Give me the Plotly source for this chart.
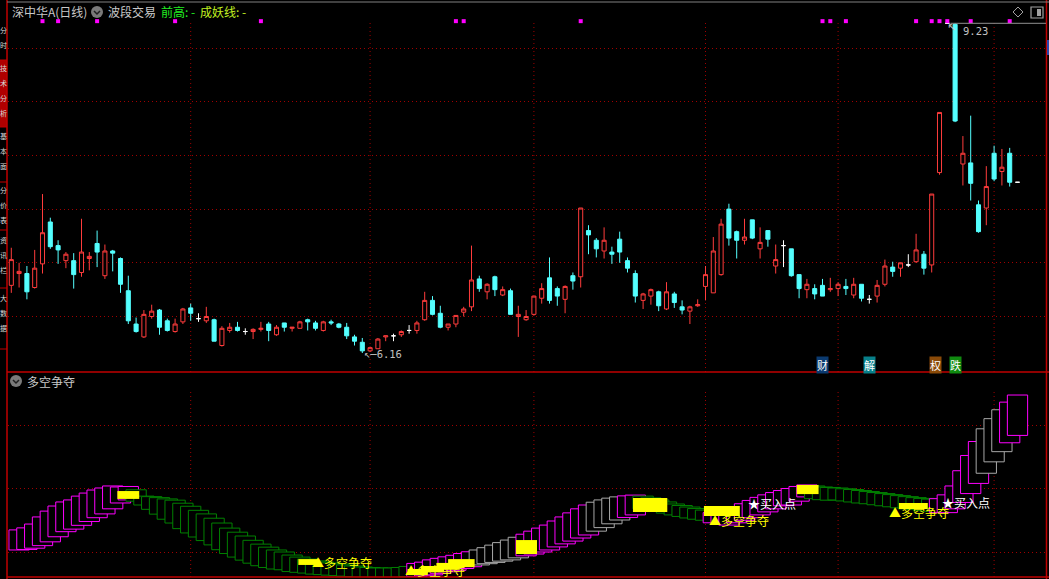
import plotly.graph_objects as go

W, H = 1049, 579

# ---------------- price data (positions 0..129) ----------------
opens = [6.79, 6.90, 6.90, 6.77, 6.99, 7.38, 7.16, 7.02, 7.02, 6.91,
         7.04, 7.18, 6.88, 7.11, 7.04, 6.74, 6.43, 6.31, 6.50, 6.56,
         6.46, 6.36, 6.45, 6.58, 6.48, 6.46, 6.47, 6.23, 6.37, 6.40,
         6.36, 6.36, 6.38, 6.43, 6.33, 6.44, 6.39, 6.39, 6.47, 6.44,
         6.37, 6.45, 6.43, 6.40, 6.31, 6.26, 6.18, 6.20, 6.31, 6.32,
         6.33, 6.37, 6.37, 6.47, 6.65, 6.53, 6.40, 6.43, 6.54, 6.59,
         6.85, 6.73, 6.87, 6.70, 6.74, 6.50, 6.47, 6.52, 6.67, 6.86,
         6.76, 6.66, 6.88, 6.87, 7.30, 7.21, 7.11, 7.10, 7.22, 7.02,
         6.90, 6.65, 6.69, 6.73, 6.57, 6.71, 6.59, 6.55, 6.60, 6.78,
         6.72, 6.89, 7.50, 7.29, 7.21, 7.40, 7.13, 7.30, 6.97, 7.16,
         7.13, 6.89, 6.75, 6.76, 6.79, 6.75, 6.76, 6.78, 6.70, 6.80,
         6.66, 6.69, 6.80, 6.96, 6.95, 6.98, 7.01, 7.08, 6.98, 7.84,
         9.23, 9.22, 7.92, 7.93, 7.54, 7.51, 8.02, 7.85, 8.02, 7.75]
highs = [7.14, 7.00, 6.97, 7.12, 7.64, 7.42, 7.21, 7.10, 7.09, 7.41,
         7.10, 7.30, 7.17, 7.12, 7.05, 6.88, 6.49, 6.56, 6.61, 6.57,
         6.48, 6.48, 6.58, 6.62, 6.53, 6.59, 6.48, 6.41, 6.44, 6.45,
         6.39, 6.39, 6.45, 6.45, 6.42, 6.44, 6.40, 6.46, 6.48, 6.46,
         6.46, 6.47, 6.44, 6.44, 6.33, 6.30, 6.22, 6.30, 6.32, 6.34,
         6.37, 6.42, 6.46, 6.73, 6.69, 6.60, 6.43, 6.51, 6.59, 7.16,
         6.88, 6.81, 6.88, 6.78, 6.76, 6.60, 6.56, 6.69, 6.81, 7.05,
         6.78, 6.79, 6.91, 7.51, 7.35, 7.23, 7.33, 7.15, 7.29, 7.05,
         6.93, 6.72, 6.76, 6.74, 6.82, 6.73, 6.65, 6.60, 6.66, 6.97,
         7.24, 7.41, 7.55, 7.30, 7.41, 7.40, 7.33, 7.30, 7.17, 7.21,
         7.13, 6.89, 6.85, 6.80, 6.85, 6.86, 6.82, 6.85, 6.86, 6.80,
         6.70, 6.84, 7.03, 7.01, 7.00, 7.08, 7.27, 7.11, 7.64, 8.40,
         9.23, 9.23, 8.18, 8.37, 7.58, 7.90, 8.09, 8.06, 8.07, 7.75]
lows = [6.72, 6.77, 6.66, 6.76, 6.90, 7.13, 6.99, 6.95, 6.76, 6.87,
        6.93, 6.96, 6.85, 6.92, 6.72, 6.43, 6.35, 6.30, 6.48, 6.33,
        6.36, 6.35, 6.43, 6.46, 6.45, 6.44, 6.27, 6.22, 6.35, 6.36,
        6.33, 6.29, 6.36, 6.27, 6.32, 6.36, 6.36, 6.39, 6.37, 6.37,
        6.36, 6.42, 6.39, 6.29, 6.23, 6.16, 6.17, 6.20, 6.27, 6.27,
        6.31, 6.34, 6.34, 6.46, 6.51, 6.39, 6.37, 6.40, 6.50, 6.55,
        6.73, 6.66, 6.69, 6.69, 6.52, 6.31, 6.46, 6.51, 6.62, 6.62,
        6.60, 6.53, 6.75, 6.77, 7.08, 7.05, 7.04, 6.99, 7.00, 6.91,
        6.63, 6.57, 6.61, 6.55, 6.56, 6.58, 6.52, 6.43, 6.59, 6.65,
        6.72, 6.88, 7.16, 7.04, 7.17, 7.22, 7.04, 7.15, 6.90, 6.96,
        6.87, 6.67, 6.67, 6.66, 6.69, 6.73, 6.69, 6.70, 6.67, 6.64,
        6.62, 6.63, 6.78, 6.87, 6.87, 6.96, 7.00, 6.89, 6.91, 7.82,
        9.23, 8.31, 7.72, 7.58, 7.28, 7.35, 7.76, 7.72, 7.71, 7.75]
closes = [7.03, 6.92, 6.73, 6.95, 7.28, 7.15, 7.12, 7.08, 6.89, 7.10,
          7.06, 7.10, 7.11, 7.09, 6.80, 6.46, 6.36, 6.52, 6.55, 6.40,
          6.37, 6.43, 6.57, 6.53, 6.48, 6.50, 6.27, 6.39, 6.40, 6.37,
          6.36, 6.38, 6.39, 6.37, 6.40, 6.40, 6.40, 6.45, 6.45, 6.39,
          6.45, 6.44, 6.40, 6.32, 6.27, 6.18, 6.21, 6.29, 6.32, 6.32,
          6.36, 6.37, 6.44, 6.65, 6.52, 6.40, 6.43, 6.51, 6.57, 6.84,
          6.76, 6.80, 6.75, 6.75, 6.52, 6.52, 6.50, 6.69, 6.76, 6.65,
          6.69, 6.78, 6.83, 7.51, 7.26, 7.13, 7.21, 7.08, 7.10, 6.95,
          6.69, 6.71, 6.75, 6.60, 6.73, 6.63, 6.56, 6.59, 6.61, 6.89,
          7.11, 7.36, 7.23, 7.21, 7.24, 7.23, 7.19, 7.22, 7.03, 7.16,
          6.88, 6.76, 6.80, 6.71, 6.69, 6.76, 6.80, 6.76, 6.80, 6.67,
          6.66, 6.79, 6.97, 6.92, 7.00, 6.98, 7.12, 6.95, 7.64, 8.40,
          9.23, 8.32, 8.02, 7.74, 7.29, 7.71, 7.78, 7.89, 7.75, 7.75]

signal_dot_pos = [4, 6, 11, 21, 32, 57, 58, 73, 104, 105, 107, 116, 118, 119, 120, 123, 128]
signal_dot_level = 9.25
month_lines = [23, 46, 67, 89, 106, 126]
price_grid = [6.5, 7.0, 7.5, 8.0, 8.5, 9.0]

# ---------------- 多空争夺 indicator (None = not drawn) ----------------
ind_top = [33.7, 34.5, 36.0, 38.8, 41.1, 43.1, 44.7, 45.5, 47.0, 48.2, 49.4, 50.2, 51.0, 50.6,
           50.8, 49.5,
           47.0, 46.8, 46.4, 45.9, 45.4, 44.2, 43.0, 41.4, 40.0, 38.3, 36.4, 34.4, 32.8, 31.3,
           29.6, 28.1, 26.9, 25.8, 25.0, 23.8, 23.0,
           22.2, 21.5, 21.1, 20.7, 20.3, 19.9, 19.5, 19.1, 18.9, 18.7, 18.7, 18.7, 18.9, 19.3,
           20.5, 21.0, 21.9, 22.5, 23.1, 23.7, 24.4, 25.1, 25.8, 26.7, 27.7, 28.7, 29.7, 30.8,
           32.0, 33.2, 34.4, 35.6, 37.2, 38.8, 40.4, 42.0, 43.5, 44.6, 45.5, 46.2, 46.7, 47.1, 47.4,
           47.0, 46.3, 45.5, 44.7, 43.9, 43.3, 42.7, 42.1, 41.5,
           40.5, 41.0, 41.5, 42.8, 44.0, 45.3, 46.5, 47.5, 48.4, 49.2, 50.0, 50.8, 51.4,
           51.0, 50.6, 50.4, 50.2, 49.9, 49.6, 49.2, 48.8, 48.4, 48.0, 47.6, 47.2, 46.8, 46.4, 46.1, 45.8,
           46.0, 47.5, 51.0, 57.0, 63.0, 68.5, 73.5, 77.5, 81.0, 84.0, 86.8, None]
ind_bot = [25.8, 26.0, 26.5, 27.5, 29.0, 31.0, 33.0, 34.0, 35.5, 37.0, 38.5, 40.0, 42.0, 44.3,
           45.5, 45.0,
           43.5, 41.8, 39.9, 37.9, 36.4, 34.2, 32.5, 30.9, 29.5, 27.8, 25.9, 24.4, 23.0, 21.8,
           20.6, 19.6, 18.9, 18.3, 18.0, 17.3, 17.0,
           16.7, 16.3, 16.1, 15.9, 15.7, 15.5, 15.3, 15.1, 15.0, 14.9, 14.9, 14.9, 15.0, 15.3,
           15.3, 15.6, 16.0, 16.6, 17.2, 17.8, 18.5, 19.2, 19.9, 20.4, 20.9, 21.4, 21.9, 22.7,
           23.5, 24.2, 25.0, 25.8, 27.0, 28.2, 29.3, 30.5, 31.7, 33.2, 34.6, 36.1, 37.6, 38.6, 39.6,
           42.0, 41.5, 41.0, 40.3, 39.6, 39.0, 38.4, 37.9, 37.5,
           36.5, 36.0, 35.6, 36.5, 37.5, 38.5, 39.6, 40.8, 42.0, 43.2, 43.5, 45.0, 46.7,
           46.0, 45.6, 45.4, 45.5, 45.1, 44.7, 44.3, 44.0, 43.6, 43.2, 42.8, 42.4, 42.0, 41.7, 41.3, 41.0,
           40.5, 40.5, 42.0, 44.5, 48.0, 52.0, 56.0, 60.5, 64.5, 68.0, 70.9, None]
# m = rising (magenta), w = rising, weak (grey), g = falling (green)
ind_state_runs = [("m", 15), ("g", 36), ("m", 8), ("w", 6), ("m", 9), ("w", 4), ("m", 2),
                  ("g", 9), ("m", 13), ("g", 16), ("m", 6), ("w", 3), ("m", 3)]

yellow_start = [13.6, 36.8, 50.8, 52.5, 54.5, 56.0, 64.7, 79.7, 88.8, 100.7, 113.8]
yellow_end = [16.4, 39.5, 53.4, 55.5, 57.5, 59.4, 67.4, 84.1, 93.4, 103.5, 117.5]
yellow_lo = [45.9, 19.9, 15.9, 17.0, 18.0, 19.1, 24.2, 40.7, 39.2, 47.8, 41.9]
yellow_hi = [49.0, 22.2, 18.3, 19.5, 20.7, 22.2, 29.7, 46.3, 43.1, 51.4, 44.3]

fight_label_x = [38.3, 50.2, 89.2, 112.3]
fight_label_y = [20.7, 17.6, 37.4, 40.7]
buy_label_x = [94.2, 119.0]
buy_label_y = [44.2, 44.3]

notice_text = ["财", "解", "权", "跌"]
notice_pos = [104, 110, 118.5, 121]
notice_bg = ["#0B3A70", "#08808A", "#8A4A08", "#108A10"]

side_tabs = ["分时", "技术分析", "基本面", "分价表", "资讯栏", "大数据"]
side_tab_top = [30, 68, 136, 190, 240, 298]

# ---------------- styling ----------------
RED = "#FF3C3C"
CYAN = "#54FFFF"
GRID = "#A00000"
DOT = "1px,3px"
FONT = "Noto Sans CJK SC"
n = len(opens)
X_LEFT, X_RIGHT = 8, 1046
X0, STEP = 11.3, 7.8
xr = [(X_LEFT - X0) / STEP, (X_RIGHT - X0) / STEP]


def px(x):
    return x / W


def py(y):
    return 1 - y / H


fig = go.Figure()

up = [i for i in range(n) if closes[i] > opens[i]]
dn = [i for i in range(n) if closes[i] < opens[i]]
fl = [i for i in range(n) if closes[i] == opens[i]]
for idx, lc, fc in [(up, RED, "black"), (dn, CYAN, CYAN), (fl, "#FFFFFF", "#FFFFFF")]:
    fig.add_trace(go.Candlestick(
        x=idx, open=[opens[i] for i in idx], high=[highs[i] for i in idx],
        low=[lows[i] for i in idx], close=[closes[i] for i in idx],
        increasing=dict(line=dict(color=lc, width=1), fillcolor=fc),
        decreasing=dict(line=dict(color=lc, width=1), fillcolor=fc),
        whiskerwidth=0, hoverinfo="skip", xaxis="x", yaxis="y"))

fig.add_trace(go.Scatter(
    x=signal_dot_pos, y=[signal_dot_level] * len(signal_dot_pos), mode="markers",
    marker=dict(symbol="square", size=4, color="#FF00FF", line=dict(width=0)),
    hoverinfo="skip", xaxis="x", yaxis="y"))

state = []
for s, k in ind_state_runs:
    state += [s] * k
col_map = {"m": "#FF00FF", "g": "#008000", "w": "#A8A8A8"}
heights = [None if t is None else t - b for t, b in zip(ind_top, ind_bot)]
fig.add_trace(go.Bar(
    x=list(range(n)), y=heights, base=ind_bot,
    width=2.6, offset=-0.3,
    marker=dict(color="black", line=dict(color=[col_map[s] for s in state], width=1)),
    hoverinfo="skip", xaxis="x2", yaxis="y2"))
fig.add_trace(go.Bar(
    x=[(a + b) / 2 for a, b in zip(yellow_start, yellow_end)],
    y=[h - l for h, l in zip(yellow_hi, yellow_lo)], base=yellow_lo,
    width=[b - a for a, b in zip(yellow_start, yellow_end)],
    marker=dict(color="#FFFF00", line=dict(width=0)),
    hoverinfo="skip", xaxis="x2", yaxis="y2"))

shapes = []
for m in month_lines:
    shapes.append(dict(type="line", xref="x", yref="paper", x0=m, x1=m, y0=py(372), y1=py(22),
                       line=dict(color=GRID, width=1, dash=DOT), layer="below"))
    shapes.append(dict(type="line", xref="x", yref="paper", x0=m, x1=m, y0=py(577), y1=py(392),
                       line=dict(color=GRID, width=1, dash=DOT), layer="below"))
shapes += [
    dict(type="line", xref="paper", yref="paper", x0=px(7), x1=1, y0=py(372), y1=py(372), line=dict(color="#C00000", width=1.5)),
    dict(type="line", xref="paper", yref="paper", x0=px(7), x1=1, y0=py(577), y1=py(577), line=dict(color="#C00000", width=1.5)),
    dict(type="line", xref="paper", yref="paper", x0=px(7), x1=px(7), y0=0, y1=1, line=dict(color="#C00000", width=1.5)),
    dict(type="line", xref="paper", yref="paper", x0=px(1046.5), x1=px(1046.5), y0=0, y1=1, line=dict(color="#C00000", width=1.5)),
    dict(type="line", xref="paper", yref="paper", x0=px(7), x1=1, y0=py(2), y1=py(2), line=dict(color="#808080", width=1)),
    dict(type="rect", xref="paper", yref="paper", x0=0, x1=px(7), y0=py(127), y1=py(60), fillcolor="#B00000", line=dict(width=0), layer="below"),
    dict(type="rect", xref="paper", yref="paper", x0=px(1047), x1=1, y0=py(55), y1=py(40), fillcolor="#2848B0", line=dict(width=0)),
]
for sy in [60, 127, 182, 230, 288, 349]:
    shapes.append(dict(type="line", xref="paper", yref="paper", x0=0, x1=px(7), y0=py(sy), y1=py(sy),
                       line=dict(color="#C00000", width=1)))
i_hi = max(range(n), key=lambda i: highs[i])
i_lo = min(range(n), key=lambda i: lows[i])
shapes.append(dict(type="line", xref="x", yref="y", x0=i_hi + 0.4, x1=xr[1], y0=highs[i_hi], y1=highs[i_hi],
                   line=dict(color="#909090", width=1)))
for cx, cy in [(97, 12), (16, 381)]:
    shapes.append(dict(type="circle", xref="paper", yref="paper", x0=px(cx - 6), x1=px(cx + 6),
                       y0=py(cy + 6), y1=py(cy - 6), fillcolor="#7A7A7A", line=dict(width=0)))
    shapes.append(dict(type="path", xref="paper", yref="paper",
                       path=f"M{px(cx-3)},{py(cy-1)} L{px(cx)},{py(cy+2)} L{px(cx+3)},{py(cy-1)}",
                       line=dict(color="#202020", width=1.5)))
shapes.append(dict(type="path", xref="paper", yref="paper",
                   path=f"M{px(1018)},{py(7)} L{px(1023)},{py(12)} L{px(1018)},{py(17)} L{px(1013)},{py(12)} Z",
                   line=dict(color="#A0A0A0", width=1)))
shapes.append(dict(type="rect", xref="paper", yref="paper", x0=px(1031), x1=px(1043), y0=py(18), y1=py(7),
                   line=dict(color="#A0A0A0", width=1.2), fillcolor="black"))
shapes.append(dict(type="rect", xref="paper", yref="paper", x0=px(1037), x1=px(1041), y0=py(16), y1=py(9),
                   line=dict(width=0), fillcolor="#A0A0A0"))

ann = []


def text(x, y, s, color, size=12, xanchor="left", family=FONT, yanchor="middle"):
    ann.append(dict(x=px(x), y=py(y), xref="paper", yref="paper", text=s, showarrow=False,
                    xanchor=xanchor, yanchor=yanchor, font=dict(color=color, size=size, family=family)))


text(10, 12, "深中华A(日线)", "#C8C8C8")
text(106, 12, "波段交易", "#C8C8C8")
text(159, 12, "前高: -", "#22EE22")
text(198, 12, "成妖线: -", "#C0F020")
text(25, 381, "多空争夺", "#C8C8C8")
for t, top in zip(side_tabs, side_tab_top):
    for k, ch in enumerate(t):
        text(3.5, top + 15 * k, ch, "#D8D8D8", size=7, xanchor="center")

ann.append(dict(x=i_hi, y=highs[i_hi], xref="x", yref="y", text="↖", showarrow=False, xanchor="left",
                yanchor="top", xshift=-2, yshift=4, font=dict(color="#C0C0C0", size=11, family="DejaVu Sans")))
ann.append(dict(x=i_hi, y=highs[i_hi], xref="x", yref="y", text=f"{highs[i_hi]:.2f}", showarrow=False,
                xanchor="left", yanchor="top", xshift=14, yshift=0,
                font=dict(color="#C0C0C0", size=10.5, family="DejaVu Sans Mono")))
ann.append(dict(x=i_lo, y=lows[i_lo], xref="x", yref="y", text=f"↖─{lows[i_lo]:.2f}", showarrow=False,
                xanchor="left", yanchor="middle", xshift=0, yshift=-1,
                font=dict(color="#C0C0C0", size=10.5, family="DejaVu Sans Mono")))

for lx, ly in zip(fight_label_x, fight_label_y):
    ann.append(dict(x=lx, y=ly, xref="x2", yref="y2", text="▲多空争夺", showarrow=False, xanchor="left",
                    yanchor="middle", font=dict(color="#FFFF00", size=12, family=FONT)))
for lx, ly in zip(buy_label_x, buy_label_y):
    ann.append(dict(x=lx, y=ly, xref="x2", yref="y2", text="★买入点", showarrow=False, xanchor="left",
                    yanchor="middle", font=dict(color="#FFFFFF", size=12, family=FONT)))

for t, p, bg in zip(notice_text, notice_pos, notice_bg):
    ann.append(dict(x=p, y=py(364.5), xref="x", yref="paper", text=t, showarrow=False, xanchor="center",
                    yanchor="middle", bgcolor=bg, borderpad=0,
                    font=dict(color="#FFFFFF", size=11, family=FONT)))

axis_common = dict(showticklabels=False, zeroline=False, showline=False, ticks="", fixedrange=True)
fig.update_layout(
    width=W, height=H, margin=dict(l=0, r=0, t=0, b=0),
    paper_bgcolor="black", plot_bgcolor="black", showlegend=False,
    boxgap=0.48, boxgroupgap=0, barmode="overlay",
    xaxis=dict(domain=[px(X_LEFT), px(X_RIGHT)], range=xr, showgrid=False,
               rangeslider=dict(visible=False), anchor="y", **axis_common),
    yaxis=dict(domain=[py(372), 1], range=[9.0 - (372 - 48) / 107.4, 9.0 + 48 / 107.4],
               tickvals=price_grid, showgrid=True, gridcolor=GRID, griddash=DOT, gridwidth=1,
               anchor="x", **axis_common),
    xaxis2=dict(domain=[px(X_LEFT), px(X_RIGHT)], range=xr, showgrid=False, anchor="y2", **axis_common),
    yaxis2=dict(domain=[py(577), py(372)], range=[25 - 25 / 2.54, 25 + 180 / 2.54],
                tickvals=[25, 50, 75], showgrid=True, gridcolor=GRID, griddash=DOT, gridwidth=1,
                anchor="x2", **axis_common),
    shapes=shapes, annotations=ann,
)

fig.write_html("out.html", config={"displayModeBar": False},
               post_script="document.body.style.margin='0';document.body.style.overflow='hidden';")
